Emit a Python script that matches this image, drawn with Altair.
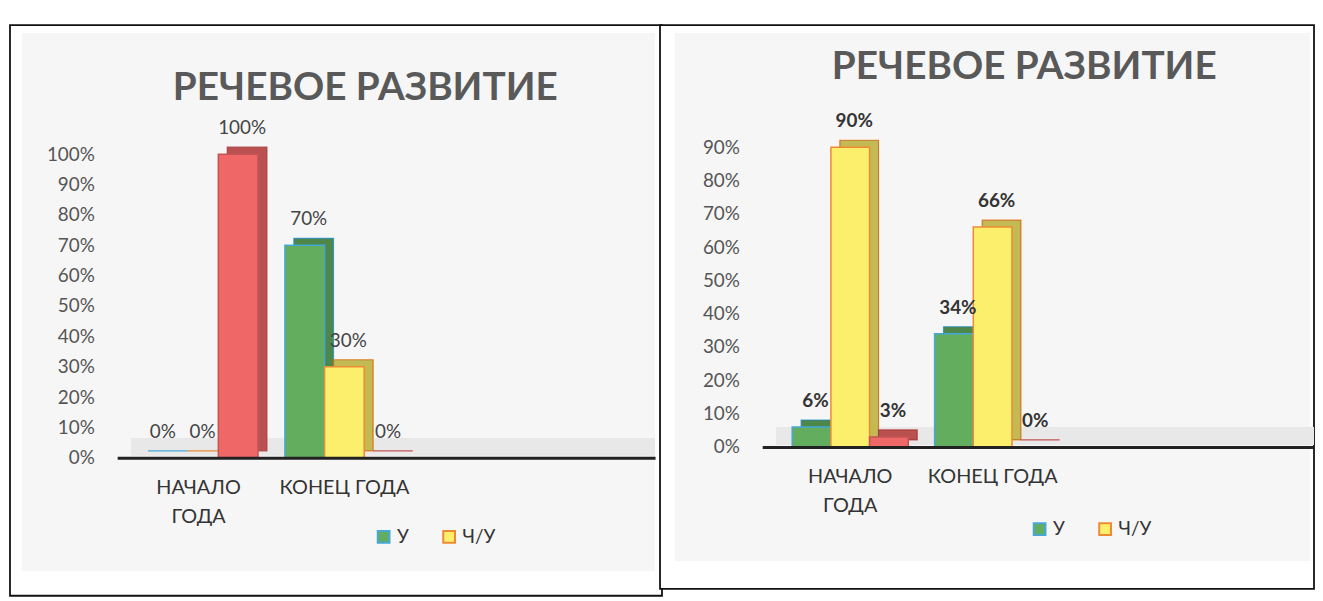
import altair as alt
import pandas as pd

# ---- data ----
categories = ["НАЧАЛО ГОДА", "КОНЕЦ ГОДА"]
series = ["У", "Ч/У", "Н/У"]
legend_series = ["У", "Ч/У"]

left_u = [0.00, 0.70]
left_chu = [0.00, 0.30]
left_nu = [1.00, 0.00]

right_u = [0.06, 0.34]
right_chu = [0.90, 0.66]
right_nu = [0.03, 0.00]

left_ticks = [0.0, 0.1, 0.2, 0.3, 0.4, 0.5, 0.6, 0.7, 0.8, 0.9, 1.0]
right_ticks = [0.0, 0.1, 0.2, 0.3, 0.4, 0.5, 0.6, 0.7, 0.8, 0.9]

panel_title = ["РЕЧЕВОЕ РАЗВИТИЕ"]

fills = ["#63ad5e", "#fbef6c", "#f06767"]
strokes = ["#45a8d6", "#ee8a33", "#c45454"]

FONT = "Lato"
DEPTH_X = 9
DEPTH_Y = -7
INNER_PAD = 0.34


def make_df(u, chu, nu):
    rows = []
    for vals, s in ((u, "У"), (chu, "Ч/У"), (nu, "Н/У")):
        for c, v in zip(categories, vals):
            rows.append({"cat": c, "series": s, "value": v})
    return pd.DataFrame(rows)


def panel(df, ymax, ticks, W, H, top_gap, frame, inner, x_pad_outer, x_align,
          title_xy, legend_xy, label_bold):
    one = pd.DataFrame({"t": panel_title})
    band = W / (2 + 2 * x_pad_outer)

    frame_rect = alt.Chart(one).mark_rect(
        fill="white", stroke="#111111", strokeWidth=1.8
    ).encode(
        x=alt.value(frame[0]), x2=alt.value(frame[1]),
        y=alt.value(frame[2]), y2=alt.value(frame[3]),
    )
    inner_rect = alt.Chart(one).mark_rect(fill="#f6f6f6").encode(
        x=alt.value(inner[0]), x2=alt.value(inner[1]),
        y=alt.value(inner[2]), y2=alt.value(inner[3]),
    )
    floor = alt.Chart(one).mark_rect(fill="#e8e8e8").encode(
        x=alt.value(14), x2=alt.value(W),
        y=alt.value(H - 20), y2=alt.value(H - 2),
    )

    x_enc = alt.X(
        "cat:N",
        sort=categories,
        scale=alt.Scale(domain=categories, paddingInner=0,
                        paddingOuter=x_pad_outer, align=x_align),
        axis=alt.Axis(
            title=None, labelAngle=0, ticks=False, domainColor="#222222",
            domainWidth=3, labelFont=FONT, labelFontSize=20,
            labelColor="#333333", labelPadding=20, labelLineHeight=29,
            labelBaseline="top", zindex=1,
            labelExpr="datum.value == 'НАЧАЛО ГОДА' ? ['НАЧАЛО', 'ГОДА'] : datum.value",
        ),
    )
    y_enc = alt.Y(
        "value:Q",
        scale=alt.Scale(domain=[0, ymax], nice=False, zero=True,
                        range=[H, top_gap]),
        axis=alt.Axis(
            title=None, values=ticks, tickCount=len(ticks), format=".0%",
            grid=False, domain=False, ticks=False, labelFont=FONT,
            labelFontSize=19, labelOverlap=False, labelColor="#555555",
            labelPadding=23, zindex=1,
        ),
    )
    xo = alt.XOffset("series:N", sort=series,
                     scale=alt.Scale(domain=series, paddingInner=0,
                                     paddingOuter=INNER_PAD))
    xo_back = alt.XOffset("series:N", sort=series,
                          scale=alt.Scale(domain=series, paddingInner=0,
                                          paddingOuter=INNER_PAD,
                                          range=[DEPTH_X, band + DEPTH_X]))

    leg = alt.Legend(
        values=legend_series, orient="none", legendX=legend_xy[0],
        legendY=legend_xy[1], direction="horizontal", title=None,
        symbolType="square", symbolSize=140, symbolStrokeWidth=2,
        labelFont=FONT, labelFontSize=19, labelColor="#333333",
        columnPadding=30, labelOffset=4,
    )
    fill_enc = alt.Fill("series:N", sort=series,
                        scale=alt.Scale(domain=series, range=fills), legend=leg)
    stroke_enc = alt.Stroke("series:N", sort=series,
                            scale=alt.Scale(domain=series, range=strokes),
                            legend=leg)

    # 3-D depth: a copy shifted right/up behind each bar, then darkened
    back = alt.Chart(df).mark_bar(
        strokeWidth=1.2, yOffset=DEPTH_Y, y2Offset=DEPTH_Y
    ).encode(x=x_enc, y=y_enc, xOffset=xo_back, fill=fill_enc, stroke=stroke_enc)
    shade = alt.Chart(df).mark_bar(
        fill="#000000", fillOpacity=0.22, strokeWidth=0,
        yOffset=DEPTH_Y, y2Offset=DEPTH_Y
    ).encode(x=x_enc, y=y_enc, xOffset=xo_back)
    back_layer = alt.layer(back, shade)

    bars = alt.Chart(df).mark_bar(strokeWidth=1.5).encode(
        x=x_enc, y=y_enc, xOffset=xo, fill=fill_enc, stroke=stroke_enc,
    )
    labels = alt.Chart(df).mark_text(
        font=FONT, fontSize=19, dy=-26, dx=4,
        fontWeight="bold" if label_bold else "normal",
        color="#333333" if label_bold else "#444444",
    ).encode(
        x=x_enc, y=y_enc, xOffset=xo,
        text=alt.Text("value:Q", format=".0%"),
    )
    front_layer = alt.layer(bars, labels)
    title = alt.Chart(one).mark_text(
        font=FONT, fontSize=39, fontWeight="bold", color="#595959",
        baseline="middle", align="center",
    ).encode(
        x=alt.value(title_xy[0]), y=alt.value(title_xy[1]), text="t:N",
    )
    return alt.layer(
        frame_rect, inner_rect, floor, back_layer, front_layer, title
    ).resolve_scale(xOffset="independent").properties(width=W, height=H)


# both plot areas start at page y=145
left = panel(
    make_df(left_u, left_chu, left_nu), 1.0, left_ticks,
    W=542, H=313, top_gap=7,
    frame=(-108, 549, -123, 452),
    inner=(-96, 542, -115, 427),
    x_pad_outer=0.844, x_align=0.0343,
    title_xy=(250, -60), legend_xy=(259, 383), label_bold=False,
)
right = panel(
    make_df(right_u, right_chu, right_nu), 0.9, right_ticks,
    W=556, H=302, top_gap=0,
    frame=(-103, 556, -123, 445),
    inner=(-88, 552, -115, 417),
    x_pad_outer=0.9375, x_align=0.063,
    title_xy=(264, -81), legend_xy=(270, 375), label_bold=True,
)

chart = alt.hconcat(left, right, spacing=-4).resolve_scale(
    fill="independent", stroke="independent", xOffset="independent"
).resolve_legend(
    fill="independent", stroke="independent"
).properties(
    padding={"left": 1, "top": 14, "right": 0, "bottom": 0}
).configure_view(stroke=None)

chart.save("out.html", embed_options={"renderer": "svg", "actions": False})
